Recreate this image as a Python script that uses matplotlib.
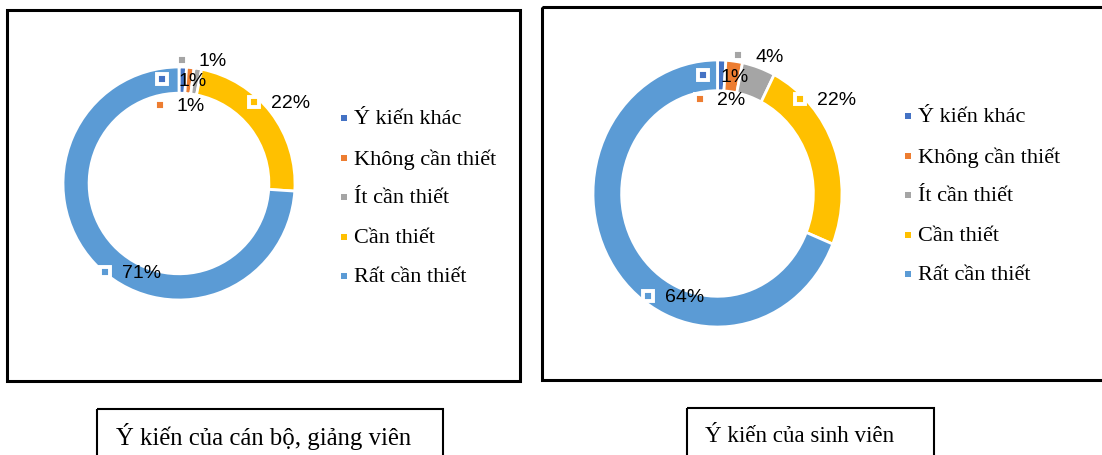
import matplotlib.pyplot as plt
from matplotlib.patches import Rectangle

categories = ['Ý kiến khác', 'Không cần thiết', 'Ít cần thiết', 'Cần thiết', 'Rất cần thiết']
colors = ['#4472C4', '#ED7D31', '#A5A5A5', '#FFC000', '#5B9BD5']
staff_pct = [1, 1, 1, 22, 71]
student_pct = [1, 2, 4, 22, 64]
captions = ['Ý kiến của cán bộ, giảng viên', 'Ý kiến của sinh viên']

W, H = 1102, 456
fig = plt.figure(figsize=(W / 100, H / 100), dpi=100)


def pixel_axes(z):
    # full-figure axes in pixel coords (y down)
    a = fig.add_axes([0, 0, 1, 1], zorder=z)
    a.set_xlim(0, W)
    a.set_ylim(H, 0)
    a.axis('off')
    a.patch.set_alpha(0)
    return a


bg = pixel_axes(0)
top = pixel_axes(10)  # data labels go over the rings


def donut(values, box, ring):
    # box = left, top, right, bottom in pixels
    l, t, r, b = box
    ax = fig.add_axes([l / W, 1 - b / H, (r - l) / W, (b - t) / H], zorder=5)
    ax.pie(values, colors=colors, startangle=90, counterclock=False,
           wedgeprops=dict(width=ring, edgecolor='white', linewidth=2))
    ax.set_aspect('auto')
    ax.set_xlim(-1, 1)
    ax.set_ylim(-1, 1)
    return ax


def data_labels(values, spots):
    for v, c, (x, y) in zip(values, colors, spots):
        top.plot(x, y, 's', color=c, ms=7.8, mec='white', mew=2.8)
        top.text(x + 17, y + 1, f'{v}%', fontsize=14, family='Liberation Sans',
                 va='center', ha='left')


def legend(x, y0):
    for i, (name, c) in enumerate(zip(categories, colors)):
        y = y0 + i * 39.5
        bg.plot(x, y, 's', color=c, ms=5, mew=0)
        bg.text(x + 10, y + 1, name, fontsize=16, family='Liberation Serif',
                va='center', ha='left')


# chart frames
bg.add_patch(Rectangle((7, 11), 513, 371, fill=False, lw=2.2, ec='black'))
bg.add_patch(Rectangle((542, 8), 600, 373, fill=False, lw=2.2, ec='black'))

# left donut: staff
donut(staff_pct, (63, 68, 295, 301), 0.225)
data_labels(staff_pct, [(162, 80), (160, 106), (182, 61), (254, 103), (105, 273)])
legend(344, 119)

# right donut: students
donut(student_pct, (593, 61, 842, 328), 0.23)
data_labels(student_pct, [(703, 76), (700, 100), (738, 56), (800, 100), (648, 297)])
legend(908, 117)

# caption boxes
bg.add_patch(Rectangle((97, 410), 346, 60, fill=False, lw=1.5, ec='black'))
bg.text(116, 437, captions[0], fontsize=17.8, family='Liberation Serif', va='center')
bg.add_patch(Rectangle((687, 409), 247, 60, fill=False, lw=1.5, ec='black'))
bg.text(705, 437, captions[1], fontsize=16.6, family='Liberation Serif', va='center')

fig.savefig('out.png', dpi=100)
